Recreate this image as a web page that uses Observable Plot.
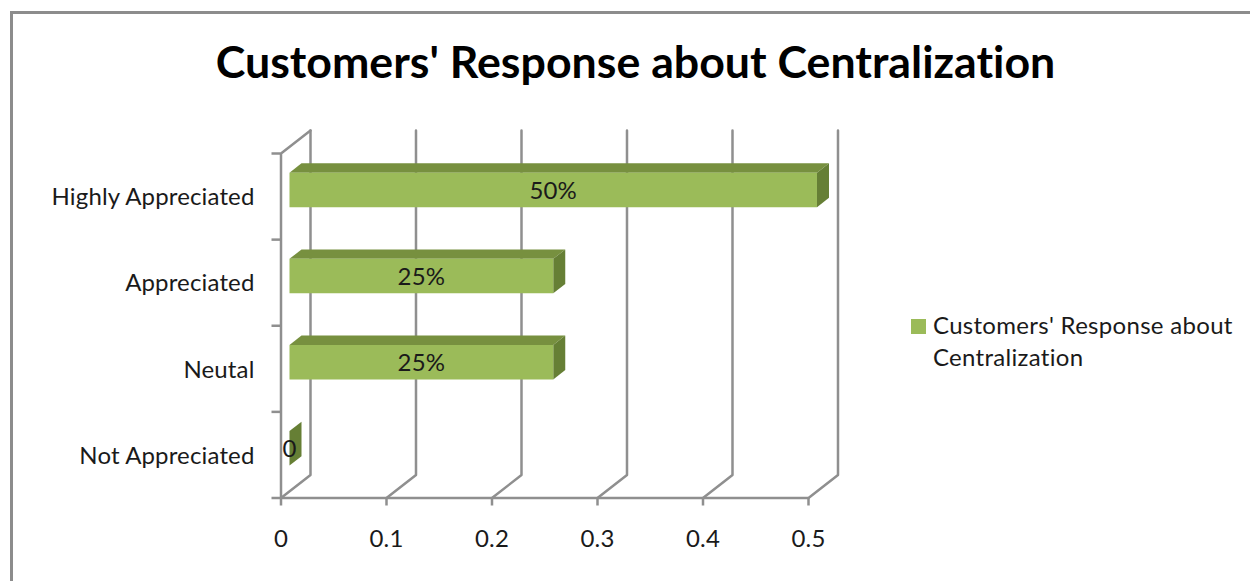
<!DOCTYPE html>
<html>
<head>
<meta charset="utf-8">
<script src="https://cdn.jsdelivr.net/npm/d3@7"></script>
<script src="https://cdn.jsdelivr.net/npm/@observablehq/plot@0.6"></script>
<style>
  html, body { margin: 0; padding: 0; background: #fff; }
  #chart { position: relative; width: 1250px; height: 581px; overflow: hidden; font-family: Lato, sans-serif; color: #1a1a1a; font-variant-ligatures: none; }
  #chart svg { position: absolute; left: 0; top: 0; background: transparent; font-variant-ligatures: none; letter-spacing: 0.15px; }
  #frame { position: absolute; left: 10px; top: 11px; right: 0; bottom: -5px; border-top: 3px solid #8c8c8c; border-left: 3px solid #8c8c8c; }
  #title { position: absolute; left: 0; width: 1271px; top: 32px; text-align: center; font-size: 44.7px; font-weight: 700; color: #000; white-space: nowrap; line-height: 58px; }
  #legend { position: absolute; left: 911px; top: 309px; font-size: 24px; line-height: 32px; letter-spacing: 0.3px; }
  #legend i { position: absolute; left: 0; top: 10px; width: 15px; height: 15px; background: #9bbb59; }
  #legend div { margin-left: 22px; white-space: nowrap; }
</style>
</head>
<body>
<div id="chart">
  <div id="frame"></div>
  <div id="title"></div>
  <div id="legend"><i></i><div id="legend-text"></div></div>
</div>
<script>
const titleText = "Customers' Response about Centralization";
const seriesName = ["Customers' Response about", "Centralization"];
const categories = ["Not Appreciated", "Neutal", "Appreciated", "Highly Appreciated"];
const values = [0, 0.25, 0.25, 0.5];
const valueLabels = ["0", "25%", "25%", "50%"];
const xTicks = [0, 0.1, 0.2, 0.3, 0.4, 0.5];

// oblique projection of the 3-D chart box: depth 0 = front, depth 1 = back wall
const depthX = 0.02796, depthY = 0.267;
const px = (x, d) => x + d * depthX;
const py = (y, d) => y + d * depthY;
const barFront = 0.288, barBack = 0.695, barHalf = 0.2;

const gridRows = xTicks.flatMap((t) => [
  {id: t, x: px(t, 0), y: py(0, 0)},
  {id: t, x: px(t, 1), y: py(0, 1)},
  {id: t, x: px(t, 1), y: py(4, 1)}
]);
const wallRows = [
  {x: px(0, 0), y: py(0, 0)},
  {x: px(0, 0), y: py(4, 0)},
  {x: px(0, 1), y: py(4, 1)}
];
const face = (i, corners) => corners.map(([x, y, d]) => ({id: i, x: px(x, d), y: py(y, d)}));
const bars = values.map((v, i) => ({v, i, lo: i + 0.5 - barHalf, hi: i + 0.5 + barHalf}));
const frontRows = bars.flatMap((b) => face(b.i, [[0, b.lo, barFront], [b.v, b.lo, barFront], [b.v, b.hi, barFront], [0, b.hi, barFront]]));
const topRows = bars.flatMap((b) => face(b.i, [[0, b.hi, barFront], [b.v, b.hi, barFront], [b.v, b.hi, barBack], [0, b.hi, barBack]]));
const sideRows = bars.flatMap((b) => face(b.i, [[b.v, b.lo, barFront], [b.v, b.hi, barFront], [b.v, b.hi, barBack], [b.v, b.lo, barBack]]));
const labelRows = bars.map((b) => ({x: px(b.v / 2, barFront), y: py(b.i + 0.5, barFront), text: valueLabels[b.i]}));

const axisColor = "#8f8f8f";
const textColor = "#1a1a1a";

const plot = Plot.plot({
  width: 1250,
  height: 581,
  marginLeft: 280.5,
  marginRight: 442,
  marginTop: 153,
  marginBottom: 83.5,
  style: {fontFamily: "Lato, sans-serif", fontSize: "24px", color: textColor, background: "transparent", overflow: "visible"},
  x: {domain: [0, 0.5]},
  y: {domain: [0, 4]},
  marks: [
    Plot.line(gridRows, {x: "x", y: "y", z: "id", stroke: axisColor, strokeWidth: 2.5}),
    Plot.line(wallRows, {x: "x", y: "y", stroke: axisColor, strokeWidth: 2.5}),
    Plot.ruleY([0], {stroke: axisColor, strokeWidth: 2.5}),
    Plot.axisX({ticks: xTicks, tickFormat: (d) => String(d), tickSize: 8, tickPadding: 24, stroke: axisColor, strokeWidth: 2.5, fill: textColor, label: null, fontSize: 24}),
    Plot.axisY({ticks: [0, 1, 2, 3, 4], tickFormat: () => "", tickSize: 9, stroke: axisColor, strokeWidth: 2.5, label: null}),
    Plot.axisY({ticks: categories.map((c, i) => i + 0.5), tickFormat: (d) => categories[d - 0.5], tickSize: 0, tickPadding: 26.5, fill: textColor, label: null, fontSize: 24, dy: 1}),
    Plot.line(topRows, {x: "x", y: "y", z: "id", fill: "#77903f", stroke: "none"}),
    Plot.line(sideRows, {x: "x", y: "y", z: "id", fill: "#667f35", stroke: "none"}),
    Plot.line(frontRows, {x: "x", y: "y", z: "id", fill: "#9bbb59", stroke: "none"}),
    Plot.text(labelRows, {x: "x", y: "y", text: "text", dy: 1, fill: textColor, fontSize: 24})
  ]
});
document.getElementById("chart").appendChild(plot);
document.getElementById("title").textContent = titleText;
document.getElementById("legend-text").innerHTML = seriesName.join("<br>");
</script>
</body>
</html>
